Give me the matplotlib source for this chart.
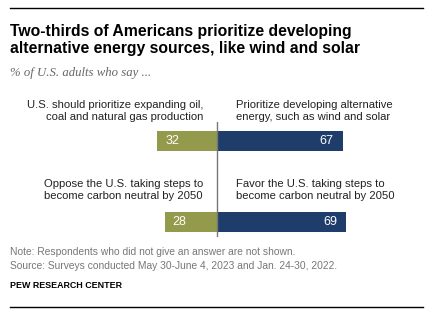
"""Pew chart: alternative energy vs fossil fuels"""

import matplotlib.pyplot as plt

# data
left_labels = ['U.S. should prioritize expanding oil,\ncoal and natural gas production',
               'Oppose the U.S. taking steps to\nbecome carbon neutral by 2050']
right_labels = ['Prioritize developing alternative\nenergy, such as wind and solar',
                'Favor the U.S. taking steps to\nbecome carbon neutral by 2050']
left_values = [32, 28]
right_values = [67, 69]

OLIVE = '#949a4c'
NAVY = '#1f3d6b'
W, H = 437, 321


def px(x, y):
    """pixel coords (top-left origin) -> figure fraction"""
    return x / W, 1 - y / H


fig = plt.figure(figsize=(W / 100, H / 100), dpi=100)
plt.rcParams['font.family'] = ['Liberation Sans', 'DejaVu Sans']

# bar axes: x from 100px to 400px, y from 122px to 237px
ax = fig.add_axes([100 / W, 1 - 237 / H, 300 / W, 115 / H])
scale = 1.875  # px per percent
center = 217
ax.set_xlim(-(center - 100) / scale, (400 - center) / scale)
ax.set_ylim(1.185, -0.235)
ax.axis('off')

ypos = [0, 1]
ax.barh(ypos, [-v for v in left_values], height=0.247, color=OLIVE)
ax.barh(ypos, right_values, height=0.247, color=NAVY)
ax.axvline(0, color='#777777', lw=1)

for y, lv, rv in zip(ypos, left_values, right_values):
    ax.text(-lv + 4.3, y, str(lv), color='white', fontsize=9,
            va='center', ha='left')
    ax.text(rv - 5, y, str(rv), color='white', fontsize=9,
            va='center', ha='right')

# category labels
for i, (ll, rl) in enumerate(zip(left_labels, right_labels)):
    ytop = [111, 190][i]
    fig.text(*px(203, ytop), ll, ha='right', va='center', fontsize=8.1,
             color='#222222', linespacing=1.35)
    fig.text(*px(236, ytop), rl, ha='left', va='center', fontsize=8.1,
             color='#222222', linespacing=1.35)

# header
fig.add_artist(plt.Line2D([10 / W, 423 / W], [1 - 8 / H, 1 - 8 / H],
                          color='black', lw=1))
fig.text(*px(10, 40), 'Two-thirds of Americans prioritize developing\n'
         'alternative energy sources, like wind and solar',
         ha='left', va='center', fontsize=11.3, fontweight='bold',
         color='black', linespacing=1.15)
fig.text(*px(10, 73), '% of U.S. adults who say ...', ha='left', va='center',
         fontsize=9.2, style='italic', family='Liberation Serif', color='#666666')

# footer
fig.text(*px(10, 259), 'Note: Respondents who did not give an answer are not shown.\n'
         'Source: Surveys conducted May 30-June 4, 2023 and Jan. 24-30, 2022.',
         ha='left', va='center', fontsize=7.4, color='#777777', linespacing=1.45)
fig.text(*px(10, 286), 'PEW RESEARCH CENTER', ha='left', va='center',
         fontsize=6.4, fontweight='bold', color='black')
fig.add_artist(plt.Line2D([10 / W, 423 / W], [1 - 307 / H, 1 - 307 / H],
                          color='black', lw=1))

plt.savefig('out.png', dpi=100)
